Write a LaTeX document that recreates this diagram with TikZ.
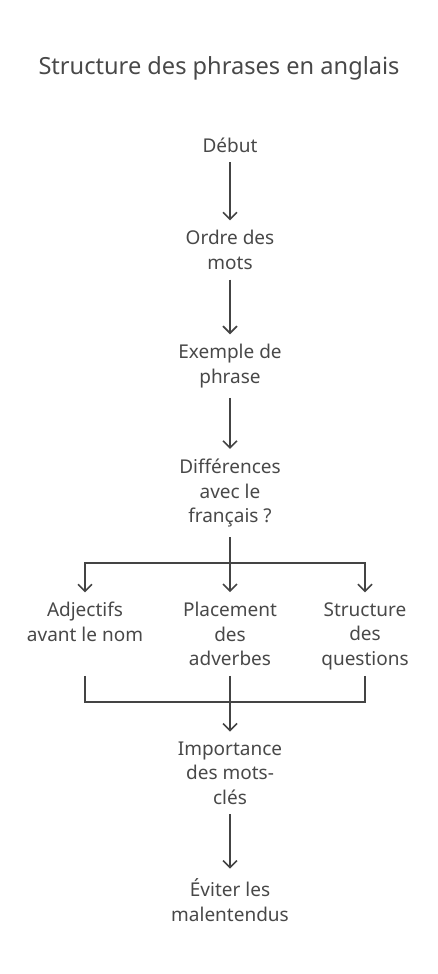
\documentclass[tikz,border=0pt]{standalone}
\usepackage{fontspec}
\setmainfont{Noto Sans}
\usetikzlibrary{arrows.meta,positioning}
\definecolor{cTxt} {RGB}{ 72, 72, 72}
\definecolor{cLine}{RGB}{ 68, 68, 68}

\begin{document}
\begin{tikzpicture}[
  x=1pt, y=-1pt,
  %% ── text step (no frame) ─────────────────────────────────────────────
  T/.style={
    align=center, inner sep=0pt, outer sep=10pt, text=cTxt,
    font=\fontsize{19}{24.5}\selectfont
  },
  %% ── main arrow ───────────────────────────────────────────────────────
  A/.style={-{Straight Barb[length=7pt,width=14pt]}, line width=1.6pt,
            draw=cLine},
  %% ── plain connector (no tip) ─────────────────────────────────────────
  P/.style={line width=1.6pt, draw=cLine},
]
\useasboundingbox (0,0) rectangle (438,974);

%% ═══════════════════════════════════════════════════════════════════════
%%  TITLE
%% ═══════════════════════════════════════════════════════════════════════
\node[T, font=\fontsize{23.6}{28}\selectfont] (title) at (219,68)
  {Structure des phrases en anglais};

%% ═══════════════════════════════════════════════════════════════════════
%%  MAIN COLUMN
%% ═══════════════════════════════════════════════════════════════════════
\node[T] (debut) at (230,145) {Début};
\node[T] (ordre) at (230,250) {Ordre des\\mots};
\node[T] (ex)    at (230,366) {Exemple de\\phrase};
\node[T] (diff)  at (230,493) {Différences\\avec le\\français ?};

%% three branches
\node[T] (adj)   at ( 85,622) {Adjectifs\\avant le nom};
\node[T] (adv)   at (230,634) {Placement\\des\\adverbes};
\node[T] (quest) at (365,636) {Structure\\des\\questions};

\node[T] (imp)   at (230,773) {Importance\\des mots-\\clés};
\node[T] (evit)  at (230,900) {Éviter les\\malentendus};

%% junction points
\coordinate (split) at (230,563);
\coordinate (join)  at (230,702);

%% ═══════════════════════════════════════════════════════════════════════
%%  ARROWS
%% ═══════════════════════════════════════════════════════════════════════
\draw[A] (debut) -- (ordre);
\draw[A] (ordre) -- (ex);
\draw[A] (ex)    -- (diff);

%% fan out
\draw[P] (diff) -- (split);
\draw[A] (split) -| (adj);
\draw[A] (split) -- (adv);
\draw[A] (split) -| (quest);

%% fan in
\draw[P] (adj.south   |- adv.south) |- (join);
\draw[P] (quest.south |- adv.south) |- (join);
\draw[A] (adv) -- (imp);

\draw[A] (imp) -- (evit);

\end{tikzpicture}
\end{document}
